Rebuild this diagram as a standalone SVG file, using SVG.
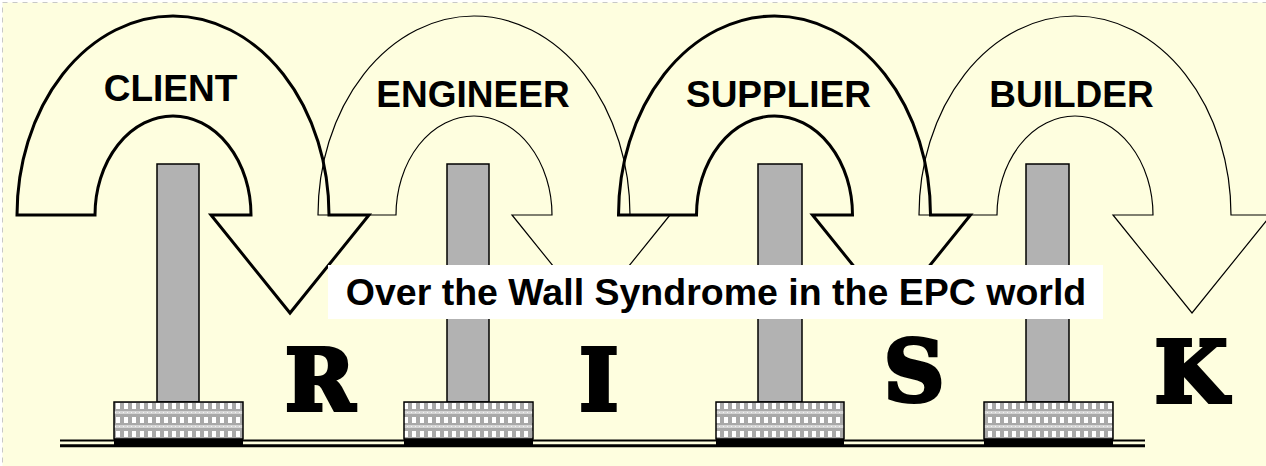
<svg xmlns="http://www.w3.org/2000/svg" width="1266" height="466" viewBox="0 0 1266 466">
  <defs>
    <style>
      .label { font-family: "Liberation Sans", Arial, sans-serif; font-weight: bold; font-size: 37px; fill: #000; text-anchor: middle; }
      .risk { font-family: "DejaVu Serif", serif; font-weight: bold; font-size: 84px; fill: #000; stroke: #000; stroke-width: 4; stroke-linejoin: miter; text-anchor: middle; }
      .arrow { fill: none; stroke: #000; stroke-linejoin: miter; }
      .thick { stroke-width: 3; }
      .thin { stroke-width: 1.2; }
      .pillar { fill: #b2b2b2; stroke: #000; stroke-width: 1.5; }
      .base { fill: url(#check); stroke: #000; stroke-width: 1.5; }
      .foot { fill: #000; }
    </style>
    <!-- U-turn arrow: half-ring arch whose right leg ends in a downward head -->
    <path id="uturn" d="M-156,215 A156,199 0 0 1 156,215 L196,215 L117,313 L38,215 L78,215 A78,99 0 0 0 -78,215 Z"/>
    <pattern id="check" width="8" height="14" patternUnits="userSpaceOnUse" x="114" y="402">
      <rect width="8" height="14" fill="#a9a9a9"/>
      <rect x="2" y="1" width="4" height="6" fill="#ffffff"/>
      <rect x="0" y="9" width="8" height="3" fill="#d4d4d4"/>
      <rect x="1" y="10" width="1" height="1" fill="#f4f4f4"/>
      <rect x="5" y="10" width="1" height="1" fill="#f4f4f4"/>
    </pattern>
  </defs>

  <!-- page background -->
  <rect x="2.5" y="2.5" width="1270" height="470" fill="#fefedf" stroke="#c8c8c8" stroke-width="1" stroke-dasharray="5 5"/>

  <!-- ground: double rail -->
  <g id="ground">
    <line x1="60" y1="440.5" x2="1145" y2="440.5" stroke="#000" stroke-width="2"/>
    <line x1="60" y1="445.8" x2="1145" y2="445.8" stroke="#000" stroke-width="3"/>
  </g>

  <!-- walls: pillar on a footing -->
  <g id="wall-1">
    <rect class="pillar" x="157" y="164" width="42" height="238"/>
    <rect class="base" x="114" y="402" width="129" height="37"/>
    <rect class="foot" x="114" y="439" width="129" height="8"/>
  </g>
  <g id="wall-2">
    <rect class="pillar" x="447" y="164" width="42" height="238"/>
    <rect class="base" x="404" y="402" width="129" height="37"/>
    <rect class="foot" x="404" y="439" width="129" height="8"/>
  </g>
  <g id="wall-3">
    <rect class="pillar" x="758" y="164" width="44" height="238"/>
    <rect class="base" x="716" y="402" width="128" height="37"/>
    <rect class="foot" x="716" y="439" width="128" height="8"/>
  </g>
  <g id="wall-4">
    <rect class="pillar" x="1026" y="164" width="43" height="238"/>
    <rect class="base" x="984" y="402" width="129" height="37"/>
    <rect class="foot" x="984" y="439" width="129" height="8"/>
  </g>

  <!-- hand-over arrows between the parties -->
  <g id="connectors">
    <use href="#uturn" class="arrow thick" transform="translate(173,0)"/>
    <use href="#uturn" class="arrow thin" transform="translate(474,0)"/>
    <use href="#uturn" class="arrow thick" transform="translate(774.5,0)"/>
    <use href="#uturn" class="arrow thin" transform="translate(1075,0)"/>
  </g>

  <!-- party names -->
  <g id="client"><text class="label" x="170.5" y="101">CLIENT</text></g>
  <g id="engineer"><text class="label" x="473" y="107">ENGINEER</text></g>
  <g id="supplier"><text class="label" x="778.5" y="107">SUPPLIER</text></g>
  <g id="builder"><text class="label" x="1071.5" y="107">BUILDER</text></g>

  <!-- caption -->
  <g id="title">
    <rect x="328" y="265" width="775" height="54" fill="#ffffff"/>
    <text class="label" x="716" y="305" style="font-size:37.5px">Over the Wall Syndrome in the EPC world</text>
  </g>

  <!-- R I S K -->
  <g id="risk">
    <text class="risk" x="320" y="410">R</text>
    <text class="risk" x="599" y="410">I</text>
    <text class="risk" x="914" y="401">S</text>
    <text class="risk" x="1191" y="402">K</text>
  </g>
</svg>
